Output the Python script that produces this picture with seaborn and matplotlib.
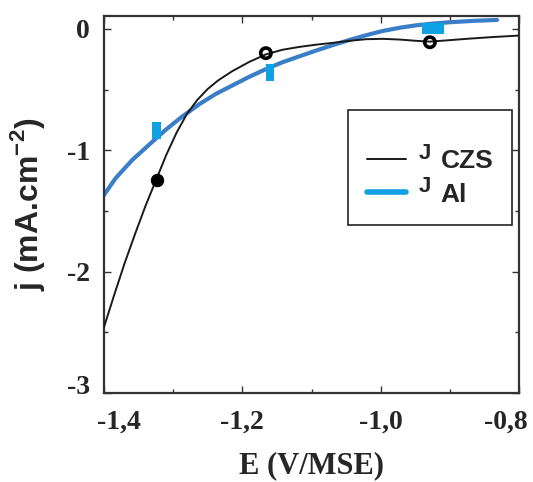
import numpy as np
import pandas as pd
import matplotlib
matplotlib.use("Agg")
import matplotlib.pyplot as plt
import matplotlib.transforms as mtransforms
import seaborn as sns

# ---- data ----
E_czs = [-1.400, -1.385, -1.370, -1.355, -1.340, -1.325, -1.310, -1.295, -1.280,
         -1.265, -1.250, -1.235, -1.215, -1.190, -1.166, -1.142, -1.117, -1.093,
         -1.069, -1.045, -1.021, -0.997, -0.972, -0.950, -0.929, -0.905, -0.876,
         -0.840, -0.800]
j_czs = [-2.46, -2.19, -1.93, -1.69, -1.46, -1.25, -1.04, -0.855, -0.70,
         -0.585, -0.495, -0.425, -0.35, -0.272, -0.21, -0.172, -0.148, -0.130,
         -0.115, -0.098, -0.085, -0.082, -0.088, -0.098, -0.105, -0.095, -0.082,
         -0.068, -0.055]

E_al = [-1.405, -1.383, -1.359, -1.335, -1.311, -1.287, -1.262, -1.238, -1.214,
        -1.190, -1.163, -1.142, -1.117, -1.093, -1.069, -1.045, -1.021, -0.997,
        -0.972, -0.948, -0.924, -0.900, -0.866, -0.832]
j_al = [-1.41, -1.23, -1.08, -0.956, -0.833, -0.723, -0.62, -0.535, -0.465,
        -0.395, -0.324, -0.275, -0.225, -0.178, -0.133, -0.091, -0.052, -0.017,
        0.010, 0.030, 0.044, 0.055, 0.066, 0.074]

E_czs_pts = [-1.323, -1.166, -0.929]
j_czs_pts = [-1.245, -0.20, -0.11]
czs_filled = [True, False, False]

E_al_pts = [-1.324, -1.160, -0.925]
j_al_pts = [-0.84, -0.357, 0.0]

x_ticks = [-1.4, -1.2, -1.0, -0.8]
x_ticklabels = ["-1,4", "-1,2", "-1,0", "-0,8"]
y_ticks = [0, -1, -2, -3]
y_ticklabels = ["0", "-1", "-2", "-3"]

xlabel = "E (V/MSE)"
ylabel = r"j (mA.cm$^{\mathbf{-2}}$)"
legend_main = ["CZS", "Al"]
legend_sup = "J"

# ---- style ----
sns.set_style("ticks")
plt.rcParams["font.family"] = ["Liberation Serif", "DejaVu Serif"]
plt.rcParams["mathtext.fontset"] = "custom"
plt.rcParams["mathtext.bf"] = "Liberation Sans:bold"
plt.rcParams["mathtext.rm"] = "Liberation Sans:bold"
plt.rcParams["mathtext.sf"] = "Liberation Sans:bold"

col_curve_al = "#3b7ec8"
col_mark_al = "#0ea2e3"

fig = plt.figure(figsize=(5.33, 4.82), dpi=100)
ax = fig.add_axes([0.195, 0.185, 0.779, 0.782])

df_czs = pd.DataFrame({"E": E_czs, "j": j_czs})
df_al = pd.DataFrame({"E": E_al, "j": j_al})

sns.lineplot(data=df_czs, x="E", y="j", ax=ax, color="#1a1a1a", lw=1.4,
             estimator=None, label=legend_main[0], zorder=3)
sns.lineplot(data=df_al, x="E", y="j", ax=ax, color=col_curve_al, lw=3.0,
             estimator=None, label=legend_main[1], zorder=2)

# markers
vert_rect = [(-0.5, -1), (0.5, -1), (0.5, 1), (-0.5, 1), (-0.5, -1)]
horiz_rect = [(-1, -0.5), (1, -0.5), (1, 0.5), (-1, 0.5), (-1, -0.5)]
df_alp = pd.DataFrame({"E": E_al_pts, "j": j_al_pts})
sns.scatterplot(data=df_alp.iloc[:2], x="E", y="j", ax=ax, marker=vert_rect,
                s=150, color=col_mark_al, edgecolor="none", zorder=4, legend=False)
sns.scatterplot(data=df_alp.iloc[2:], x="E", y="j", ax=ax, marker=horiz_rect,
                s=245, color=col_mark_al, edgecolor="none", zorder=4, legend=False)

df_czp = pd.DataFrame({"E": E_czs_pts, "j": j_czs_pts, "filled": czs_filled})
sns.scatterplot(data=df_czp[df_czp.filled], x="E", y="j", ax=ax, marker="o",
                s=80, color="black", edgecolor="black", zorder=5, legend=False)
sns.scatterplot(data=df_czp[~df_czp.filled], x="E", y="j", ax=ax, marker="o",
                s=55, facecolor="none", edgecolor="black", linewidth=2.6,
                zorder=5, legend=False)

ax.set_xlim(-1.4, -0.8)
ax.set_ylim(-3.0, 0.107)

ax.set_xticks(x_ticks)
ax.set_xticklabels(x_ticklabels)
ax.set_xticks([-1.3, -1.1, -0.9], minor=True)
ax.set_yticks(y_ticks)
ax.set_yticklabels(y_ticklabels)
ax.set_yticks([-0.5, -1.5, -2.5], minor=True)

ax.tick_params(axis="both", which="both", direction="in", top=True, right=True,
               color="#333333", width=1.0)
ax.tick_params(axis="both", which="major", length=5, labelsize=20)
ax.tick_params(axis="x", which="major", pad=12)
ax.tick_params(axis="y", which="major", pad=10)
ax.tick_params(axis="both", which="minor", length=3)
for lab in ax.get_xticklabels() + ax.get_yticklabels():
    lab.set_fontweight("bold")

# nudge edge labels inside the figure like the reference
xl = ax.get_xticklabels()
xl[0].set_transform(xl[0].get_transform() + mtransforms.ScaledTranslation(0.15, 0, fig.dpi_scale_trans))
xl[-1].set_transform(xl[-1].get_transform() + mtransforms.ScaledTranslation(-0.13, 0, fig.dpi_scale_trans))
yl = ax.get_yticklabels()
yl[-1].set_transform(yl[-1].get_transform() + mtransforms.ScaledTranslation(0, 0.08, fig.dpi_scale_trans))

for sp in ax.spines.values():
    sp.set_color("#333333")
    sp.set_linewidth(1.6)

ax.set_xlabel(xlabel, fontsize=22, fontweight="bold", labelpad=12)
ax.set_ylabel(ylabel, fontsize=23, fontweight="bold", family=["Liberation Sans"],
              labelpad=14)

leg = ax.legend(loc="upper left", bbox_to_anchor=(0.588, 0.751), borderaxespad=0,
                prop={"family": "Liberation Sans", "weight": "bold", "size": 19},
                title=" ", title_fontsize=9,
                frameon=True, fancybox=False, handlelength=1.5,
                handletextpad=1.3, labelspacing=0.35, borderpad=0.7)
leg.get_frame().set_edgecolor("#222222")
leg.get_frame().set_linewidth(1.2)
leg.get_frame().set_alpha(1)
handles = leg.legend_handles
handles[1].set_color(col_mark_al)
handles[1].set_linewidth(4)

for t in leg.get_texts():
    ax.annotate(legend_sup, xy=(0, 1), xycoords=t, xytext=(-7, 5),
                textcoords="offset points", ha="right", va="top",
                fontsize=16, fontweight="bold", family="Liberation Sans",
                zorder=10, annotation_clip=False)

fig.savefig("out.png", dpi=100)
